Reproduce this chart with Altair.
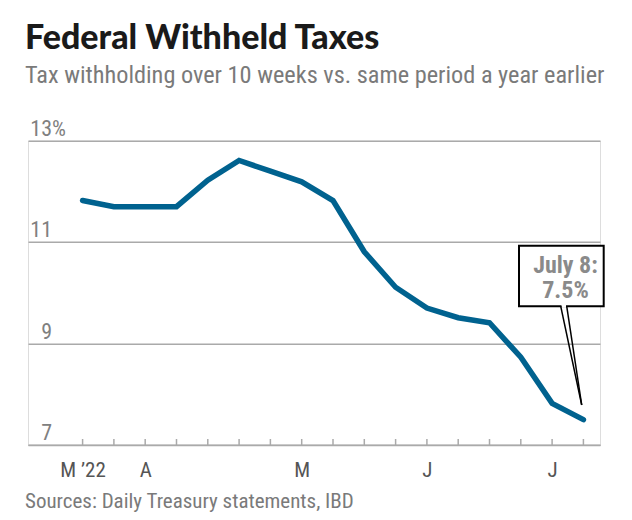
import json
import altair as alt
import pandas as pd

# ---- data ----
weeks = ["2022-03-18", "2022-03-25", "2022-04-01", "2022-04-08", "2022-04-15",
         "2022-04-22", "2022-04-29", "2022-05-06", "2022-05-13", "2022-05-20",
         "2022-05-27", "2022-06-03", "2022-06-10", "2022-06-17", "2022-06-24",
         "2022-07-01", "2022-07-08"]
values = [11.82, 11.70, 11.70, 11.70, 12.22, 12.61, 12.40, 12.19, 11.82, 10.81,
          10.11, 9.70, 9.51, 9.41, 8.73, 7.82, 7.50]
tick_labels = ["M \u201922", "", "A", "", "", "", "", "M", "", "", "", "J", "",
               "", "", "J", ""]
y_ticks = [7, 9, 11, 13]
y_tick_text = ["7", "9", "11", "13"]

title_text = "Federal Withheld Taxes"
subtitle_text = "Tax withholding over 10 weeks vs. same period a year earlier"
source_text = "Sources: Daily Treasury statements, IBD"
callout_lines = ["July 8:", "7.5%"]

df = pd.DataFrame({"week": weeks, "idx": list(range(len(weeks))), "value": values})
ydf = pd.DataFrame({"v": y_ticks, "t": y_tick_text})
one = pd.DataFrame({"a": [0]})

labelled = [i for i, t in enumerate(tick_labels) if t]

W, H = 572, 304.3
COND = "Roboto Condensed"
LINE = "#00628f"
GRID = "#aaaaaa"

xscale = alt.Scale(domain=[-1.744, 16.53], nice=False, zero=False)
yscale = alt.Scale(domain=[7, 13], nice=False, zero=False)

label_expr = json.dumps(tick_labels, ensure_ascii=False) + "[datum.value]"

line = alt.Chart(df).mark_line(color=LINE, strokeWidth=5.5, strokeCap="round").encode(
    x=alt.X("idx:Q", scale=xscale,
            axis=alt.Axis(values=labelled, labelExpr=label_expr,
                          grid=False, ticks=False, tickSize=0, domainColor=GRID,
                          domainWidth=1.5, labelFontSize=21, labelFont=COND,
                          labelColor="#555555", labelPadding=14, title=None,
                          labelFlush=False, labelOverlap=False, labelBound=False)),
    y=alt.Y("value:Q", scale=yscale,
            axis=alt.Axis(values=y_ticks, grid=True, gridColor=GRID, gridWidth=1.5,
                          labels=False, ticks=False, domain=False, title=None)),
)

ticks = alt.Chart(df).mark_rule(color=GRID, strokeWidth=1.5).encode(
    x=alt.X("idx:Q", scale=xscale), y=alt.value(H - 6), y2=alt.value(H))

ylab = alt.Chart(ydf).mark_text(align="right", baseline="alphabetic", dy=-5,
                                fontSize=22, font=COND, color="#808080").encode(
    x=alt.value(24), y=alt.Y("v:Q", scale=yscale), text="t:N")

pct = alt.Chart(ydf).transform_filter("datum.v == 13").mark_text(
    align="left", baseline="alphabetic", dy=-5, fontSize=22, font=COND,
    color="#808080", text="%").encode(x=alt.value(24), y=alt.Y("v:Q", scale=yscale))

box = alt.Chart(one).mark_rect(fill="white", stroke="black", strokeWidth=2).encode(
    x=alt.value(491), x2=alt.value(575.7), y=alt.value(105), y2=alt.value(165.5))

gap = alt.Chart(one).mark_rule(color="white", strokeWidth=3).encode(
    x=alt.value(533.5), x2=alt.value(538), y=alt.value(165.5))

ptr_l = alt.Chart(one).mark_rule(color="black", strokeWidth=1.5).encode(
    x=alt.value(532.7), y=alt.value(165.5), x2=alt.value(553.7), y2=alt.value(264.3))
ptr_r = alt.Chart(one).mark_rule(color="black", strokeWidth=1.5).encode(
    x=alt.value(538.7), y=alt.value(165.5), x2=alt.value(553.7), y2=alt.value(264.3))

callout = alt.Chart(one).mark_text(text=callout_lines, align="center",
                                   baseline="alphabetic", fontSize=24, lineHeight=24.7,
                                   font=COND, fontWeight="bold", color="#8a8a8a").encode(
    x=alt.value(537.5), y=alt.value(132.3))

src = alt.Chart(one).mark_text(text=source_text, align="left", baseline="alphabetic",
                               fontSize=21, font=COND, color="#7a7a7a").encode(
    x=alt.value(-3), y=alt.value(H + 63))

chart = alt.layer(line, ticks, ylab, pct, box, gap, ptr_l, ptr_r, callout, src).properties(
    width=W, height=H,
    padding={"left": 20, "top": 132.7, "right": 24, "bottom": 67},
    autosize=alt.AutoSizeParams(type="none"),
    title=alt.TitleParams(
        text=title_text, subtitle=subtitle_text, anchor="start", frame="group",
        font="Lato", fontSize=34, fontWeight=900, color="#1a1a1a",
        subtitleFont=COND, subtitleFontSize=24.3, subtitleColor="#7a7a7a",
        subtitlePadding=8, offset=29, dx=-3),
).configure_view(stroke=None).configure(background="white")

chart.save("out.html", embed_options={"renderer": "svg", "actions": False})
